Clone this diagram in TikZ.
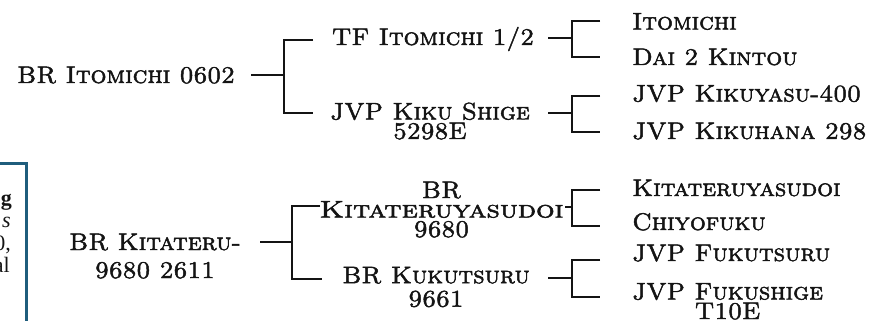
\documentclass[tikz,border=0pt]{standalone}
\usepackage{graphicx}
\usepackage{fontspec}
\newfontfamily\trj{lmromancaps10-regular.otf}[FakeBold=2,FakeStretch=1.04]
\newfontfamily\boxfont{Liberation Serif}
\definecolor{boxblue}{RGB}{31,93,124}
\definecolor{ink}{RGB}{20,20,20}
\tikzset{
  lbl/.style={font=\trj\fontsize{24}{19.5}\selectfont, inner sep=0pt, anchor=base, text=ink, align=center},
  leaf/.style={lbl, anchor=base west},
  link/.style={line width=1.1pt, draw=ink},
  boxtxt/.style={font=\boxfont\fontsize{22}{24}\selectfont, inner sep=0pt, anchor=base east, text=ink}
}
\begin{document}
\begin{tikzpicture}[x=1pt,y=-1pt]
\useasboundingbox (0,0) rectangle (879,321);
% partial legend box
\draw[boxblue, line width=3.2pt] (-20,163.3) -- (26.5,163.3) -- (26.5,340);
\node[boxtxt] (b1) at (12,205) {\bfseries g};
\node[boxtxt] (b2) at (11,227) {\itshape s};
\node[boxtxt] (b3) at (11,250) {0,};
\node[boxtxt] (b4) at (10,272) {al};
% roots
\node[lbl] (r1) at (126,83) {BR Itomichi 0602};
\node[lbl] (r2) at (155,278) {BR Kitateru-\\[8.5pt]9680 2611};
% children
\node[lbl] (c1) at (433,45) {TF Itomichi 1/2};
\node[lbl] (c2) at (430,139) {JVP Kiku Shige\\5298E};
\node[lbl] (c3) at (441.5,237) {BR\\\scalebox{1.17}[1]{Kitateruyasudoi}\\9680};
\node[lbl] (c4) at (436,306.7) {BR Kukutsuru\\[4pt]9661};
% grandchildren
\node[leaf] (g1) at (632,29.5) {Itomichi};
\node[leaf] (g2) at (632,65) {Dai 2 Kintou};
\node[leaf] (g3) at (632,101.5) {JVP Kikuyasu-400};
\node[leaf] (g4) at (632,139) {JVP Kikuhana 298};
\node[leaf] (g5) at (632,196) {Kitateruyasudoi};
\node[leaf] (g6) at (632,230) {Chiyofuku};
\node[leaf] (g7) at (632,261) {JVP Fukutsuru};
\node[leaf] (g8) at (632,319) {JVP Fukushige\\T10E};
% junctions
\coordinate (j1) at (284,75);
\coordinate (j2) at (572,38);
\coordinate (j3) at (572,113);
\coordinate (j4) at (292,242);
\coordinate (j5) at (572,207);
\coordinate (j6) at (572,278);
% arm ends
\coordinate (a1t) at (313,40);  \coordinate (a1b) at (313,113);
\coordinate (a2t) at (600,21);  \coordinate (a2b) at (600,57);
\coordinate (a3t) at (600,96);  \coordinate (a3b) at (600,132);
\coordinate (a4t) at (320,206); \coordinate (a4b) at (322,279);
\coordinate (a5t) at (600,190); \coordinate (a5b) at (600,226);
\coordinate (a6t) at (600,260); \coordinate (a6b) at (600,297);
% stubs from parents
\coordinate (s1) at (251,75);
\coordinate (s2) at (548,38);
\coordinate (s3) at (548,113);
\coordinate (s4) at (260,242);
\coordinate (s5) at (565,207);
\coordinate (s6) at (548,278);
\foreach \k in {1,...,6}{
  \draw[link] (s\k) -- (j\k);
  \draw[link] (a\k t) -| (j\k) |- (a\k b);
}
\end{tikzpicture}
\end{document}
